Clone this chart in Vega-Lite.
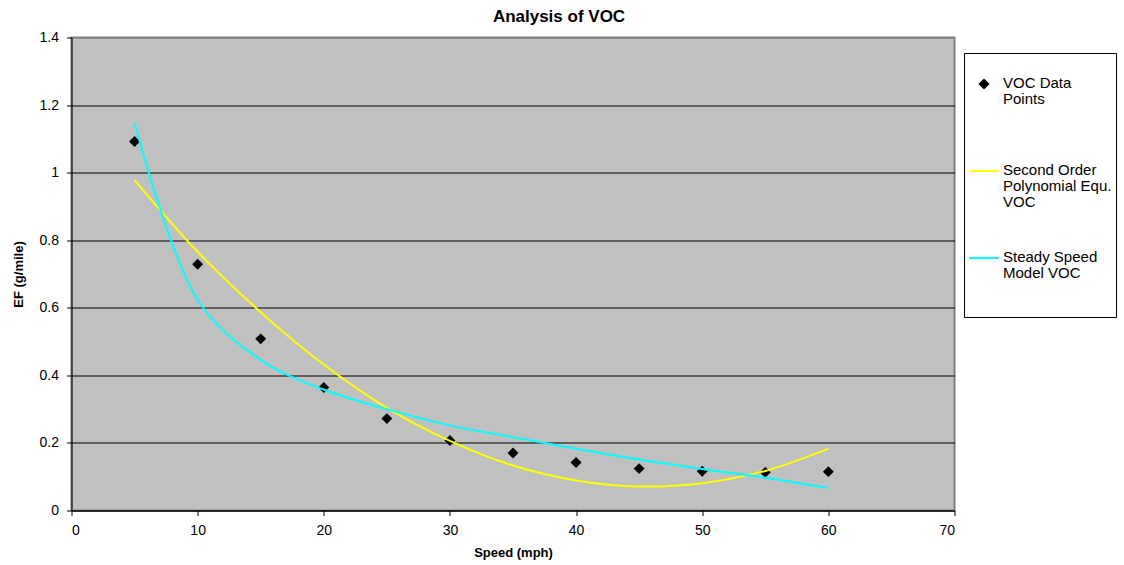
{
  "$schema": "https://vega.github.io/schema/vega-lite/v6.json",
  "width": 883,
  "height": 473,
  "autosize": {"type": "none"},
  "padding": {"left": 71.5, "top": 37.5, "right": 169.5, "bottom": 54.5},
  "background": "white",
  "title": {
    "text": "Analysis of VOC",
    "font": "Liberation Sans",
    "fontSize": 17,
    "fontWeight": "bold",
    "color": "black",
    "anchor": "middle",
    "dx": 46,
    "offset": 5
  },
  "config": {
    "font": "Liberation Sans",
    "view": {"fill": "#C0C0C0", "stroke": "#808080", "strokeWidth": 2},
    "axis": {
      "labelFont": "Liberation Sans",
      "labelFontSize": 14,
      "labelColor": "black",
      "titleFont": "Liberation Sans",
      "titleFontSize": 13,
      "titleFontWeight": "bold",
      "titleColor": "black",
      "domainColor": "black",
      "domainWidth": 1,
      "tickColor": "black",
      "tickSize": 5,
      "tickWidth": 1
    }
  },
  "data": {
    "values": [
      {"series": "VOC Data Points", "speed": 5, "ef": 1.092},
      {"series": "VOC Data Points", "speed": 10, "ef": 0.729},
      {"series": "VOC Data Points", "speed": 15, "ef": 0.508},
      {"series": "VOC Data Points", "speed": 20, "ef": 0.364},
      {"series": "VOC Data Points", "speed": 25, "ef": 0.272},
      {"series": "VOC Data Points", "speed": 30, "ef": 0.207},
      {"series": "VOC Data Points", "speed": 35, "ef": 0.170},
      {"series": "VOC Data Points", "speed": 40, "ef": 0.142},
      {"series": "VOC Data Points", "speed": 45, "ef": 0.124},
      {"series": "VOC Data Points", "speed": 50, "ef": 0.116},
      {"series": "VOC Data Points", "speed": 55, "ef": 0.113},
      {"series": "VOC Data Points", "speed": 60, "ef": 0.115},
      {"series": "Second Order Polynomial Equ. VOC", "speed": 5, "ef": 0.978},
      {"series": "Second Order Polynomial Equ. VOC", "speed": 10, "ef": 0.766},
      {"series": "Second Order Polynomial Equ. VOC", "speed": 15, "ef": 0.587},
      {"series": "Second Order Polynomial Equ. VOC", "speed": 20, "ef": 0.432},
      {"series": "Second Order Polynomial Equ. VOC", "speed": 25, "ef": 0.304},
      {"series": "Second Order Polynomial Equ. VOC", "speed": 30, "ef": 0.206},
      {"series": "Second Order Polynomial Equ. VOC", "speed": 35, "ef": 0.133},
      {"series": "Second Order Polynomial Equ. VOC", "speed": 40, "ef": 0.089},
      {"series": "Second Order Polynomial Equ. VOC", "speed": 45, "ef": 0.071},
      {"series": "Second Order Polynomial Equ. VOC", "speed": 50, "ef": 0.081},
      {"series": "Second Order Polynomial Equ. VOC", "speed": 55, "ef": 0.117},
      {"series": "Second Order Polynomial Equ. VOC", "speed": 60, "ef": 0.183},
      {"series": "Steady Speed Model VOC", "speed": 5, "ef": 1.148},
      {"series": "Steady Speed Model VOC", "speed": 10, "ef": 0.624},
      {"series": "Steady Speed Model VOC", "speed": 15, "ef": 0.446},
      {"series": "Steady Speed Model VOC", "speed": 20, "ef": 0.358},
      {"series": "Steady Speed Model VOC", "speed": 25, "ef": 0.300},
      {"series": "Steady Speed Model VOC", "speed": 30, "ef": 0.252},
      {"series": "Steady Speed Model VOC", "speed": 35, "ef": 0.217},
      {"series": "Steady Speed Model VOC", "speed": 40, "ef": 0.183},
      {"series": "Steady Speed Model VOC", "speed": 45, "ef": 0.151},
      {"series": "Steady Speed Model VOC", "speed": 50, "ef": 0.123},
      {"series": "Steady Speed Model VOC", "speed": 55, "ef": 0.097},
      {"series": "Steady Speed Model VOC", "speed": 60, "ef": 0.067}
    ]
  },
  "encoding": {
    "x": {
      "field": "speed",
      "type": "quantitative",
      "scale": {"domain": [0, 70], "nice": false},
      "axis": {
        "title": "Speed (mph)",
        "values": [0, 10, 20, 30, 40, 50, 60, 70],
        "grid": false,
        "labelPadding": 8,
        "titlePadding": 9
      }
    },
    "y": {
      "field": "ef",
      "type": "quantitative",
      "scale": {"domain": [0, 1.4], "nice": false},
      "axis": {
        "title": "EF (g/mile)",
        "values": [0, 0.2, 0.4, 0.6, 0.8, 1, 1.2, 1.4],
        "format": "~g",
        "grid": true,
        "gridColor": {"condition": {"test": "datum.value === 1.4", "value": "#808080"}, "value": "black"},
        "gridWidth": 1,
        "labelPadding": 8,
        "titlePadding": 14
      }
    },
    "color": {
      "field": "series",
      "type": "nominal",
      "scale": {
        "domain": ["VOC Data Points", "Second Order Polynomial Equ. VOC", "Steady Speed Model VOC"],
        "range": ["black", "#FFFF00", "#00FFFF"]
      },
      "legend": {
        "title": " ",
        "titleFontSize": 8,
        "titlePadding": 3,
        "orient": "none",
        "legendX": 892.5,
        "legendY": 15.5,
        "padding": 4,
        "strokeColor": "black",
        "fillColor": "white",
        "symbolSize": 900,
        "symbolOffset": 0,
        "labelOffset": 3,
        "labelFont": "Liberation Sans",
        "labelFontSize": 15,
        "labelColor": "black",
        "labelBaseline": "top",
        "labelLimit": 300,
        "gridAlign": "all",
        "rowPadding": -2,
        "labelExpr": "datum.label == 'VOC Data Points' ? ['VOC Data', 'Points'] : datum.label == 'Steady Speed Model VOC' ? ['Steady Speed', 'Model VOC', '', ''] : ['Second Order', 'Polynomial Equ.', 'VOC', '', '']",
        "encode": {
          "symbols": {
            "update": {
              "fill": {"scale": "color", "field": "value"},
              "stroke": {"scale": "color", "field": "value"},
              "strokeWidth": {"value": 2},
              "size": {"signal": "datum.value === 'VOC Data Points' ? 70 : 900"}
            }
          },
          "labels": {
            "update": {"dy": {"value": -8}, "lineHeight": {"value": 16}}
          }
        }
      }
    }
  },
  "layer": [
    {
      "transform": [{"filter": "datum.series === 'VOC Data Points'"}],
      "mark": {"type": "point", "filled": true, "opacity": 1, "size": 120},
      "encoding": {
        "shape": {
          "field": "series",
          "type": "nominal",
          "scale": {
            "domain": ["VOC Data Points", "Second Order Polynomial Equ. VOC", "Steady Speed Model VOC"],
            "range": ["diamond", "stroke", "stroke"]
          }
        }
      }
    },
    {
      "transform": [{"filter": "datum.series !== 'VOC Data Points'"}],
      "mark": {"type": "line", "strokeWidth": 2, "interpolate": "catmull-rom"},
      "encoding": {}
    }
  ]
}
